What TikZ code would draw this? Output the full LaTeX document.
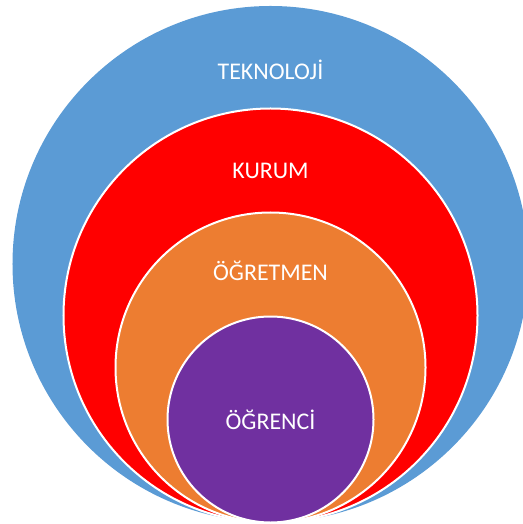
\documentclass[tikz,border=0pt]{standalone}
\usepackage{fontspec}
\setmainfont{Carlito}
\definecolor{cblue}{HTML}{5B9BD5}
\definecolor{cred}{HTML}{FF0000}
\definecolor{corange}{HTML}{ED7D31}
\definecolor{cpurple}{HTML}{7030A0}
\tikzset{
  ring/.style={circle, draw=white, line width=2bp, inner sep=0pt},
  lbl/.style={text=white, font=\fontsize{24}{28}\selectfont, inner sep=0pt}
}
\begin{document}
\begin{tikzpicture}[x=1bp,y=-1bp]
\useasboundingbox (0,0) rectangle (523,524);
\clip (0,0) rectangle (523,524);
\node[ring, draw=none, fill=cblue, minimum size=516bp] (blue) at (270.5,264) {};
\node[ring, fill=cred, minimum size=414bp] (red) at (270.5,315.5) {};
\node[ring, fill=corange, minimum size=310bp] (orange) at (270.5,367.5) {};
\node[ring, fill=cpurple, minimum size=206bp] (purple) at (270.5,419.5) {};
\node[lbl] (t1) at (270.5,70) {TEKNOLOJİ};
\node[lbl] (t2) at (270.5,171) {KURUM};
\node[lbl] (t3) at (270.5,271) {ÖĞRETMEN};
\node[lbl] (t4) at (270.5,420) {ÖĞRENCİ};
\end{tikzpicture}
\end{document}
